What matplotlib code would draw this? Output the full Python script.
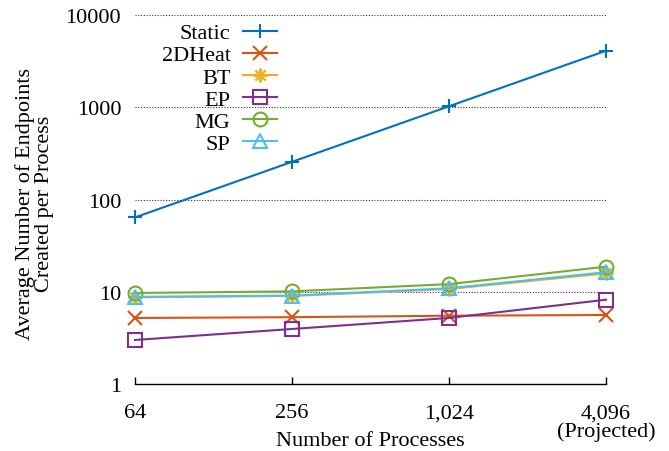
import matplotlib
matplotlib.use("Agg")
import matplotlib.pyplot as plt
from matplotlib.ticker import FixedLocator, NullLocator

plt.rcParams['font.family'] = ['Liberation Serif', 'DejaVu Serif']
plt.rcParams['mathtext.fontset'] = 'stix'

procs = ["64", "256", "1,024", "4,096\n(Projected)"]
static = [64, 256, 1024, 4096]
heat2d = [5.2, 5.3, 5.5, 5.6]
bt = [8.7, 9.0, 10.7, 15.8]
ep = [3.0, 3.95, 5.2, 8.2]
mg = [9.7, 10.1, 12.1, 18.7]
sp = [8.8, 9.1, 10.9, 16.3]

series = [
    ("Static", static, "#0072BD", "+"),
    ("2DHeat", heat2d, "#D95319", "x"),
    ("BT", bt, "#EDB120", (8, 2, 0)),
    ("EP", ep, "#7E2F8E", "s"),
    ("MG", mg, "#77AC30", "o"),
    ("SP", sp, "#4DBEEE", "^"),
]

FS = 16

fig = plt.figure(figsize=(6.69, 4.52), dpi=100)
ax = fig.add_axes([0.2018, 0.1482, 0.9058 - 0.2018, 0.9646 - 0.1482])

xs = list(range(len(procs)))
for name, vals, col, mk in series:
    ax.plot(xs, vals, color=col, marker=mk, markersize=10, markeredgewidth=1.5,
            markerfacecolor='none', linewidth=1.5, label=name, clip_on=False)

ax.set_yscale('log')
ax.set_ylim(1, 10000)
ax.set_xlim(0, 3)
ax.yaxis.set_major_locator(FixedLocator([1, 10, 100, 1000, 10000]))
ax.set_yticklabels(["1", "10", "100", "1000", "10000"])
ax.yaxis.set_minor_locator(NullLocator())
ax.set_xticks(xs)
ax.set_xticklabels(procs, linespacing=0.95)

for v in [10, 100, 1000, 10000]:
    ax.axhline(v, color='#333333', linestyle=(0, (1, 1.5)), linewidth=0.8, zorder=0)

for s in ['left', 'right', 'top']:
    ax.spines[s].set_visible(False)
ax.spines['bottom'].set_linewidth(1.0)

ax.tick_params(axis='y', length=0, pad=10, labelsize=FS)
ax.tick_params(axis='x', direction='in', length=5, width=1, pad=14, labelsize=FS)

ax.set_xlabel("Number of Processes", fontsize=FS)
ax.xaxis.set_label_coords(0.5, -0.128)
ax.set_ylabel("Average Number of Endpoints\nCreated per Process", fontsize=FS,
              linespacing=1.0)
ax.yaxis.set_label_coords(-0.172, 0.49)

leg = ax.legend(loc='upper left', bbox_to_anchor=(0.028, 1.015), markerfirst=False,
                frameon=False, fontsize=FS, handlelength=1.55, handletextpad=0.55,
                labelspacing=0.07, borderaxespad=0.2)

fig.savefig("out.png", dpi=100)
